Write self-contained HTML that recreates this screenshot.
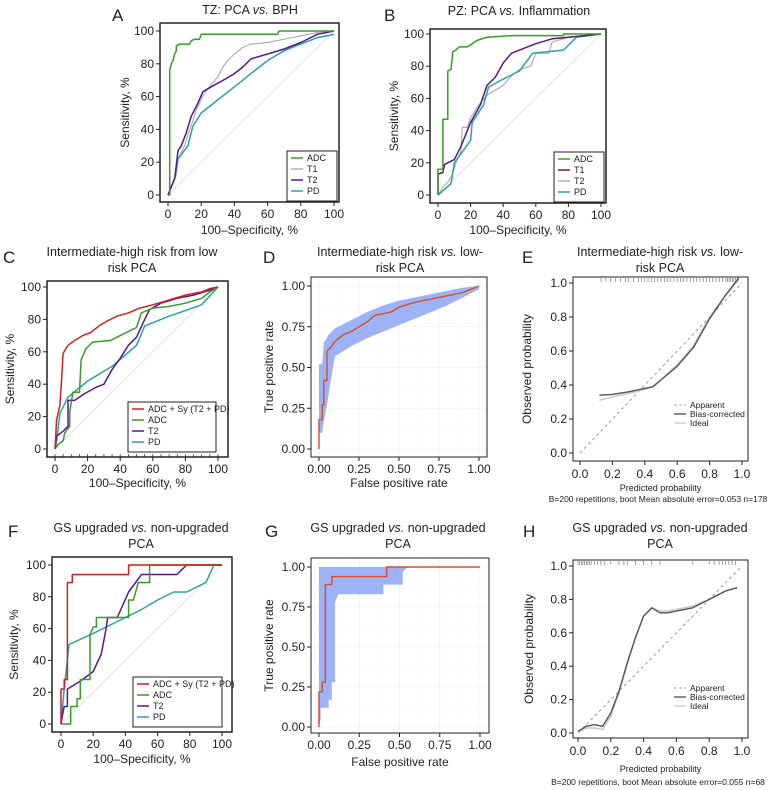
<!DOCTYPE html>
<html><head><meta charset="utf-8">
<style>
html,body{margin:0;padding:0;background:#fff;}
svg{display:block;font-family:"Liberation Sans",Arial,sans-serif;}
</style></head>
<body>
<svg id="fig" width="777" height="790" viewBox="0 0 777 790" xmlns="http://www.w3.org/2000/svg"></svg>
<script>
// ---------- DATA ----------
const aTicks=[0,20,40,60,80,100];
const pTicks=[0,0.25,0.5,0.75,1];
const pTickLabels=["0.00","0.25","0.50","0.75","1.00"];
const cTicks=[0,0.2,0.4,0.6,0.8,1];
const cTickLabels=["0.0","0.2","0.4","0.6","0.8","1.0"];

const aADC=[[0,0],[1,0],[1,76],[2,80],[3,82],[4,86],[5,88],[5,91],[7,92],[13,92],[14,94],[16,95],[19,95],[20,98],[66,98],[67,100],[100,100]];
const aT1=[[0,0],[2,5],[5,12],[6,22],[8,26],[10,30],[13,40],[15,45],[17,52],[20,58],[22,62],[25,66],[30,72],[33,78],[36,82],[40,86],[45,90],[50,92],[60,93],[70,95],[80,97],[90,99],[100,100]];
const aT2=[[0,0],[2,5],[4,10],[5,18],[6,27],[8,30],[11,38],[14,48],[18,56],[21,63],[26,66],[35,71],[40,74],[45,78],[50,83],[60,86],[70,89],[80,93],[90,98],[100,100]];
const aPD=[[0,0],[2,5],[4,10],[6,22],[9,26],[12,30],[15,42],[20,50],[30,58],[40,66],[50,74],[60,82],[70,88],[80,92],[90,96],[100,98]];

const bADC=[[0,0],[0,16],[3,16],[3,47],[6,47],[6,77],[8,78],[9,89],[11,90],[13,92],[18,92],[21,94],[24,96],[30,98],[45,99],[77,99],[77,100],[100,100]];
const bT1=[[0,0],[0,13],[3,14],[4,19],[10,22],[14,30],[20,45],[26,56],[30,68],[35,73],[40,82],[45,88],[50,90],[60,94],[70,97],[80,98],[90,99],[100,100]];
const bT2=[[0,0],[3,5],[6,8],[9,13],[11,20],[14,27],[15,42],[18,42],[20,48],[25,56],[30,62],[35,65],[40,68],[45,74],[50,78],[57,80],[60,88],[68,88],[70,95],[80,98],[100,100]];
const bPD=[[0,0],[8,7],[10,20],[20,34],[21,45],[28,56],[31,67],[40,72],[50,77],[58,88],[77,90],[85,98],[100,100]];

const cSy=[[0,0],[1,18],[3,27],[4,42],[5,59],[8,64],[12,67],[17,70],[22,72],[27,76],[32,79],[38,82],[45,84],[52,87],[60,89],[70,92],[80,95],[90,97],[95,99],[100,100]];
const cADC=[[0,0],[2,3],[5,5],[6,10],[9,14],[9,23],[11,35],[15,35],[16,55],[19,62],[23,66],[34,67],[40,70],[50,75],[53,84],[60,87],[70,88],[80,90],[90,93],[95,97],[100,100]];
const cT2=[[0,0],[1,8],[5,11],[8,14],[8,30],[12,30],[18,34],[25,38],[30,40],[35,49],[40,56],[45,64],[50,69],[55,80],[58,86],[65,90],[75,93],[85,95],[95,98],[100,100]];
const cPD=[[0,0],[1,5],[3,22],[8,32],[20,42],[35,51],[50,64],[55,76],[70,82],[90,89],[100,100]];

const dROC=[[0,0],[0,0.18],[0.02,0.18],[0.02,0.27],[0.03,0.27],[0.03,0.42],[0.05,0.42],[0.05,0.6],[0.07,0.62],[0.1,0.66],[0.15,0.7],[0.2,0.72],[0.25,0.75],[0.3,0.78],[0.35,0.82],[0.45,0.84],[0.5,0.87],[0.6,0.9],[0.7,0.92],[0.8,0.94],[0.9,0.96],[0.95,0.98],[1,1]];
const dUpper=[[0,0.18],[0,0.52],[0.02,0.52],[0.03,0.65],[0.06,0.7],[0.1,0.74],[0.2,0.79],[0.3,0.84],[0.4,0.88],[0.5,0.91],[0.6,0.93],[0.7,0.95],[0.8,0.97],[0.9,0.99],[1,1]];
const dLower=[[0,0.1],[0.02,0.1],[0.03,0.17],[0.05,0.27],[0.07,0.4],[0.1,0.57],[0.15,0.6],[0.2,0.63],[0.3,0.68],[0.4,0.72],[0.5,0.76],[0.6,0.8],[0.7,0.84],[0.8,0.88],[0.9,0.93],[1,0.98]];

const eBias=[[0.12,0.34],[0.2,0.345],[0.3,0.36],[0.4,0.38],[0.45,0.39],[0.5,0.43],[0.6,0.51],[0.7,0.62],[0.8,0.79],[0.9,0.93],[0.98,1.03]];
const eApp=[[0.12,0.31],[0.2,0.33],[0.3,0.35],[0.4,0.375],[0.45,0.39],[0.5,0.43],[0.6,0.52],[0.7,0.63],[0.8,0.8],[0.9,0.93],[0.98,1.02]];
const eRug=[0.13,0.16,0.19,0.22,0.25,0.28,0.3,0.33,0.36,0.38,0.4,0.42,0.44,0.46,0.48,0.5,0.52,0.54,0.56,0.58,0.6,0.62,0.64,0.66,0.68,0.7,0.72,0.74,0.76,0.78,0.8,0.82,0.84,0.86,0.88,0.9,0.91,0.92,0.93,0.94,0.95,0.96,0.97];

const fSy=[[0,0],[0,22],[2,22],[2,28],[4,28],[4,89],[7,89],[7,94],[42,94],[42,100],[100,100]];
const fADC=[[0,0],[6,0],[6,11],[10,11],[10,16],[12,16],[12,28],[18,28],[18,56],[20,61],[22,61],[22,67],[42,67],[42,78],[45,78],[48,89],[55,89],[55,100],[100,100]];
const fT2=[[0,0],[1,6],[2,11],[4,11],[4,22],[12,27],[20,33],[25,44],[28,60],[29,67],[35,67],[42,83],[50,94],[72,94],[78,100],[100,100]];
const fPD=[[0,0],[2,22],[5,50],[20,57],[40,67],[50,72],[60,78],[70,83],[78,83],[90,89],[95,100],[100,100]];

const gROC=[[0,0],[0,0.22],[0.02,0.22],[0.02,0.28],[0.04,0.28],[0.04,0.89],[0.08,0.89],[0.08,0.94],[0.42,0.94],[0.42,1],[1,1]];
const gUpper=[[0,1],[0.55,1]];
const gLower=[[0,0],[0.01,0.05],[0.01,0.12],[0.06,0.12],[0.06,0.17],[0.08,0.17],[0.08,0.28],[0.1,0.28],[0.1,0.78],[0.12,0.83],[0.4,0.83],[0.4,0.89],[0.52,0.89],[0.52,0.97],[0.55,1]];

const hBias=[[0,0.01],[0.05,0.04],[0.1,0.05],[0.15,0.04],[0.2,0.12],[0.25,0.25],[0.3,0.42],[0.35,0.57],[0.4,0.7],[0.45,0.75],[0.5,0.72],[0.55,0.72],[0.6,0.73],[0.7,0.75],[0.8,0.8],[0.9,0.85],[0.97,0.87]];
const hApp=[[0,0],[0.05,0.03],[0.1,0.03],[0.15,0.02],[0.2,0.1],[0.25,0.24],[0.3,0.41],[0.35,0.57],[0.4,0.7],[0.45,0.75],[0.5,0.73],[0.55,0.73],[0.6,0.74],[0.7,0.76],[0.8,0.8],[0.9,0.85],[0.97,0.87]];
const hRug=[0,0.01,0.02,0.03,0.04,0.05,0.06,0.07,0.08,0.1,0.12,0.14,0.16,0.2,0.25,0.28,0.3,0.35,0.4,0.45,0.5,0.7,0.8,0.83,0.86,0.88,0.9,0.92,0.94,0.96];

// ---------- DRAW ----------
const svg=document.getElementById('fig');
const NS='http://www.w3.org/2000/svg';
function mk(tag,attrs,parent){const e=document.createElementNS(NS,tag);for(const k in attrs)e.setAttribute(k,attrs[k]);(parent||svg).appendChild(e);return e;}
function txt(s,x,y,size,anchor,parent,extra){const t=mk('text',Object.assign({x:x,y:y,'font-size':size,'text-anchor':anchor||'middle',fill:'#222'},extra||{}),parent);t.textContent=s;return t;}

function panel(cfg){
  const g=mk('g',{});
  
  
  const sx=v=>cfg.x0+(v-cfg.dmin)/(cfg.dmax-cfg.dmin)*(cfg.x1-cfg.x0);
  const sy=v=>cfg.y0-(v-cfg.dmin)/(cfg.dmax-cfg.dmin)*(cfg.y0-cfg.y1);
  const b=cfg.box;
  if(cfg.grid){
    const gg=mk('g',{},g);
    
    
    for(let i=0;i<=8;i++){const v=i/8;
      mk('line',{x1:sx(v),x2:sx(v),y1:b[1],y2:b[3],stroke:i%2?'#f6f6f6':'#ececec','stroke-width':0.6},gg);
      mk('line',{x1:b[0],x2:b[2],y1:sy(v),y2:sy(v),stroke:i%2?'#f6f6f6':'#ececec','stroke-width':0.6},gg);}
  }
  if(cfg.diag){
    const d=mk('line',{x1:sx(cfg.dmin),y1:sy(cfg.dmin),x2:sx(cfg.dmax),y2:sy(cfg.dmax),stroke:cfg.diag.c,'stroke-width':1,'stroke-dasharray':cfg.diag.dash||''},g);
    
    
  }
  (cfg.bands||[]).forEach(bd=>{
    const pts=bd.up.map(p=>sx(p[0])+','+sy(p[1])).concat(bd.lo.slice().reverse().map(p=>sx(p[0])+','+sy(p[1])));
    const p=mk('polygon',{points:pts.join(' '),fill:'#9db2f7',stroke:'none'},g);
    
    
  });
  (cfg.series||[]).forEach(s=>{
    const p=mk('polyline',{points:s.d.map(q=>sx(q[0]).toFixed(1)+','+sy(q[1]).toFixed(1)).join(' '),fill:'none',stroke:s.c,'stroke-width':s.w||1.5,'stroke-linejoin':'round'},g);
    
    
  });
  if(cfg.rug){
    const rg=mk('g',{},g);
    
    
    cfg.rug.forEach(v=>mk('line',{x1:sx(v),x2:sx(v),y1:b[1]+1,y2:b[1]+5,stroke:'#666','stroke-width':0.6},rg));
  }
  const r=mk('rect',{x:b[0],y:b[1],width:b[2]-b[0],height:b[3]-b[1],fill:'none',stroke:cfg.boxc||'#222','stroke-width':cfg.boxw||1.5},g);
  
  
  const ax=mk('g',{},g);
  
  
  cfg.ticks.forEach((v,i)=>{
    const lab=cfg.labels?cfg.labels[i]:String(v);
    mk('line',{x1:sx(v),x2:sx(v),y1:b[3],y2:b[3]+4,stroke:'#222','stroke-width':1},ax);
    mk('line',{x1:b[0]-4,x2:b[0],y1:sy(v),y2:sy(v),stroke:'#222','stroke-width':1},ax);
    txt(lab,sx(v),b[3]+cfg.tk,cfg.fs,'middle',ax);
    txt(lab,b[0]-6,sy(v)+4,cfg.fs,'end',ax);
  });
  if(cfg.minor){for(let v=0;v<=100;v+=5)mk('line',{x1:sx(v),x2:sx(v),y1:b[3],y2:b[3]-3,stroke:'#222','stroke-width':0.7},ax);}
  txt(cfg.xt,(b[0]+b[2])/2,cfg.xty,cfg.xfs||12,'middle',ax);
  const yt=txt(cfg.yt,0,0,12,'middle',ax,{transform:`translate(${cfg.ytx},${(b[1]+b[3])/2}) rotate(-90)`});
  
  cfg.title.forEach((l,i)=>{const t=mk('text',{x:cfg.tcx,y:cfg.ty+i*16,'font-size':12.5,'text-anchor':'middle',fill:'#222'},g);
    t.innerHTML=l; });
  const L=txt(cfg.letter,cfg.lx,cfg.ly,17,'start',g);
  
  if(cfg.note){cfg.note.forEach(n=>txt(n[0],n[1],n[2],n[3],'middle',g));}
  if(cfg.legend){
    const lg=mk('g',{},g);
    
    
    const L=cfg.legend;
    if(L.box)mk('rect',{x:L.x,y:L.y,width:L.w,height:L.items.length*L.dy+6,fill:'#fff',stroke:'#222','stroke-width':1},lg);
    L.items.forEach((it,i)=>{const yy=L.y+10+i*L.dy;
      const e=mk('g',{},lg);
      
      
      mk('line',{x1:L.x+4,x2:L.x+16,y1:yy-3,y2:yy-3,stroke:it[1],'stroke-width':it[2]||1.5,'stroke-dasharray':it[3]||''},e);
      txt(it[0],L.x+20,yy,L.fs||9,'start',e);});
  }
}
const G='#3a9a2a',R='#d42020',P='#55188f',T='#2aa3a0',GR='#b0b0b0',OR='#d4502a';
const dg={c:'#e2e2e2'};
panel({name:'panel-a',box:[160,23,339,202],x0:168,x1:334,y0:195,y1:31,dmin:0,dmax:100,ticks:aTicks,tk:16,fs:12,diag:dg,
  series:[{n:'t1',d:aT1,c:GR,w:1.2},{n:'pd',d:aPD,c:T},{n:'t2',d:aT2,c:P},{n:'adc',d:aADC,c:G}],
  xt:'100–Specificity, %',xty:234,ytx:129,yt:'Sensitivity, %',title:['TZ: PCA <tspan font-style="italic">vs.</tspan> BPH'],tcx:250,ty:14,letter:'A',lx:112,ly:21,
  legend:{x:287,y:151,w:50,dy:11,box:true,items:[['ADC',G],['T1',GR],['T2',P],['PD',T]]}});
panel({name:'panel-b',box:[430,29,606,203],x0:438,x1:601,y0:195,y1:34,dmin:0,dmax:100,ticks:aTicks,tk:16,fs:12,diag:dg,
  series:[{n:'t2',d:bT2,c:GR,w:1.2},{n:'pd',d:bPD,c:T},{n:'t1',d:bT1,c:P},{n:'adc',d:bADC,c:G}],
  xt:'100–Specificity, %',xty:234,ytx:398,yt:'Sensitivity, %',title:['PZ: PCA <tspan font-style="italic">vs.</tspan> Inflammation'],tcx:519,ty:15,letter:'B',lx:384,ly:21,
  legend:{x:554,y:152,w:50,dy:11,box:true,items:[['ADC',G],['T1',P],['T2',GR],['PD',T]]}});
panel({name:'panel-c',box:[47,281,228,457],x0:55,x1:218,y0:449,y1:287,dmin:0,dmax:100,ticks:aTicks,tk:16,fs:12,diag:dg,minor:true,
  series:[{n:'pd',d:cPD,c:T},{n:'t2',d:cT2,c:P},{n:'adc',d:cADC,c:G},{n:'sy',d:cSy,c:R}],
  xt:'100–Specificity, %',xty:487,ytx:14,yt:'Sensitivity, %',title:['Intermediate-high risk from low','risk PCA'],tcx:132,ty:256,letter:'C',lx:3,ly:263,
  legend:{x:128,y:402,w:88,dy:11,box:true,items:[['ADC + Sy (T2 + PD)',R],['ADC',G],['T2',P],['PD',T]]}});
panel({name:'panel-d',box:[311,277,487,457],x0:319,x1:479,y0:449,y1:286,dmin:0,dmax:1,ticks:pTicks,labels:pTickLabels,tk:16,fs:12,grid:true,boxw:1,
  bands:[{up:dUpper,lo:dLower}],series:[{n:'roc',d:dROC,c:OR,w:1.4}],
  xt:'False positive rate',xty:487,ytx:273,yt:'True positive rate',title:['Intermediate-high risk <tspan font-style="italic">vs.</tspan> low-','risk PCA'],tcx:400,ty:256,letter:'D',lx:263,ly:263});
panel({name:'panel-e',box:[573,277,748,461],x0:580,x1:742,y0:453,y1:283,dmin:0,dmax:1,ticks:cTicks,labels:cTickLabels,tk:17,fs:12,boxw:1,diag:{c:'#999',dash:'3,3'},
  series:[{n:'apparent',d:eApp,c:'#c8c8c8',w:1.5},{n:'bias-corrected',d:eBias,c:'#555',w:1.4}],rug:eRug,
  xt:'Predicted probability',xty:491,xfs:9,ytx:531,yt:'Observed probability',title:['Intermediate-high risk <tspan font-style="italic">vs.</tspan> low-','risk PCA'],tcx:660,ty:256,letter:'E',lx:522,ly:263,
  note:[['B=200 repetitions, boot    Mean absolute error=0.053 n=178',658,502,8.5]],
  legend:{x:670,y:398,w:80,dy:9,box:false,fs:8.5,items:[['Apparent','#aaa',1,'3,2'],['Bias-corrected','#555',1.4],['Ideal','#ccc',1.4]]}});
panel({name:'panel-f',box:[52,557,232,732],x0:61,x1:222,y0:724,y1:565,dmin:0,dmax:100,ticks:aTicks,tk:16,fs:12,diag:dg,
  series:[{n:'pd',d:fPD,c:T},{n:'t2',d:fT2,c:P},{n:'adc',d:fADC,c:G},{n:'sy',d:fSy,c:R}],
  xt:'100–Specificity, %',xty:763,ytx:18,yt:'Sensitivity, %',title:['GS upgraded <tspan font-style="italic">vs.</tspan> non-upgraded','PCA'],tcx:141,ty:532,letter:'F',lx:8,ly:537,
  legend:{x:133,y:677,w:89,dy:11,box:true,items:[['ADC + Sy (T2 + PD)',R],['ADC',G],['T2',P],['PD',T]]}});
panel({name:'panel-g',box:[311,558,489,733],x0:319,x1:480,y0:727,y1:567,dmin:0,dmax:1,ticks:pTicks,labels:pTickLabels,tk:16,fs:12,grid:true,boxw:1,
  bands:[{up:gUpper,lo:gLower}],series:[{n:'roc',d:gROC,c:OR,w:1.4}],
  xt:'False positive rate',xty:766,ytx:273,yt:'True positive rate',title:['GS upgraded <tspan font-style="italic">vs.</tspan> non-upgraded','PCA'],tcx:398,ty:532,letter:'G',lx:265,ly:537});
panel({name:'panel-h',box:[573,560,748,738],x0:578,x1:742,y0:733,y1:566,dmin:0,dmax:1,ticks:cTicks,labels:cTickLabels,tk:17,fs:12,boxw:1,diag:{c:'#999',dash:'3,3'},
  series:[{n:'apparent',d:hApp,c:'#c8c8c8',w:1.5},{n:'bias-corrected',d:hBias,c:'#555',w:1.4}],rug:hRug,
  xt:'Predicted probability',xty:772,xfs:9,ytx:533,yt:'Observed probability',title:['GS upgraded <tspan font-style="italic">vs.</tspan> non-upgraded','PCA'],tcx:660,ty:532,letter:'H',lx:523,ly:537,
  note:[['B=200 repetitions, boot    Mean absolute error=0.055 n=68',658,785,8.5]],
  legend:{x:670,y:681,w:80,dy:9,box:false,fs:8.5,items:[['Apparent','#aaa',1,'3,2'],['Bias-corrected','#555',1.4],['Ideal','#ccc',1.4]]}});
</script>
</body></html>
